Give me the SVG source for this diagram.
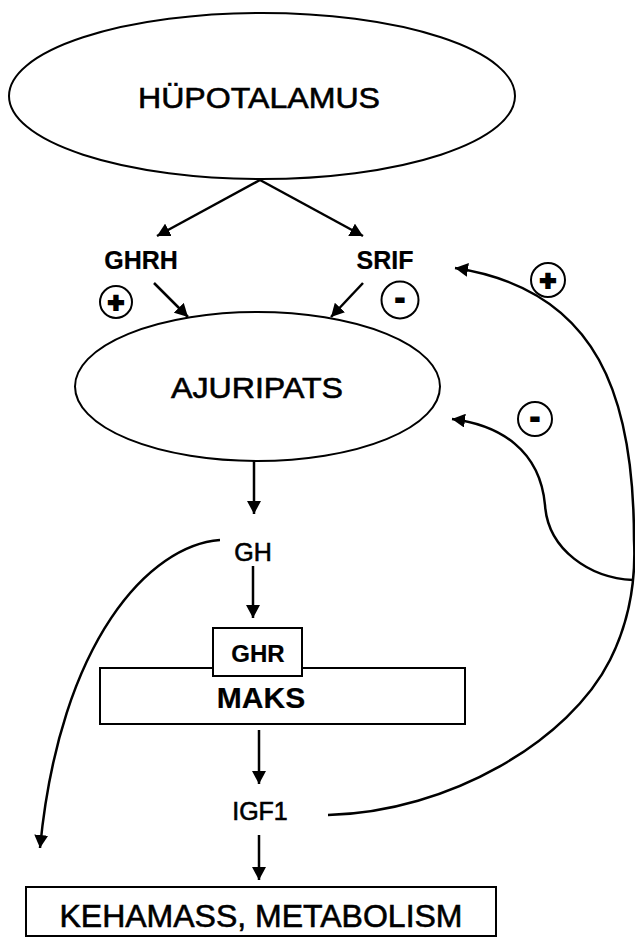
<svg xmlns="http://www.w3.org/2000/svg" width="635" height="937" viewBox="0 0 635 937">
<style>
.shape{fill:#fff;stroke:#000;stroke-width:2}
.con{fill:none;stroke:#000;stroke-width:2.5}
.t{font-family:"Liberation Sans",Arial,sans-serif;fill:#000;stroke:#000;stroke-width:0.6;text-anchor:middle}
.b{font-weight:bold;stroke-width:0.2}
.sym{font-family:"Liberation Sans",Arial,sans-serif;font-weight:bold;fill:#000;stroke:#000;stroke-width:2.2;text-anchor:middle}
.sc{fill:#fff;stroke:#000;stroke-width:2}
</style>
<defs>
<marker id="ah" markerUnits="userSpaceOnUse" markerWidth="14" markerHeight="14" refX="13" refY="7" orient="auto">
<path d="M0,0 L13,7 L0,14 z" fill="#000"/>
</marker>
</defs>
<rect width="635" height="937" fill="#fff"/>
<g id="connectors">
<line class="con" x1="260" y1="180" x2="157" y2="236" marker-end="url(#ah)"/>
<line class="con" x1="260" y1="180" x2="363" y2="236" marker-end="url(#ah)"/>
<line class="con" x1="154" y1="283" x2="188" y2="317" marker-end="url(#ah)"/>
<line class="con" x1="363" y1="283" x2="331" y2="317" marker-end="url(#ah)"/>
<line class="con" x1="254" y1="461" x2="254" y2="514" marker-end="url(#ah)"/>
<line class="con" x1="253" y1="566" x2="253" y2="618" marker-end="url(#ah)"/>
<line class="con" x1="259" y1="730" x2="259" y2="784" marker-end="url(#ah)"/>
<line class="con" x1="259" y1="835" x2="259" y2="880" marker-end="url(#ah)"/>
<path class="con" d="M220,540 C150,545 60,640 40,848" marker-end="url(#ah)"/>
<path class="con" d="M328,815 C450,812 570,740 610,660 C630,620 636,580 634,540 C634,400 600,290 455,268" marker-end="url(#ah)"/>
<path class="con" d="M633,580 C590,578 548,550 545,505 C540,450 500,425 452,419" marker-end="url(#ah)"/>
</g>
<g id="hypothalamus">
<ellipse class="shape" cx="262" cy="96" rx="253" ry="83"/>
<text class="t" x="259" y="108" font-size="30" textLength="242" lengthAdjust="spacingAndGlyphs">HÜPOTALAMUS</text>
</g>
<g id="ghrh">
<text class="t b" x="141" y="269" font-size="25">GHRH</text>
</g>
<g id="srif">
<text class="t b" x="385" y="269" font-size="25">SRIF</text>
</g>
<g id="plus1">
<circle class="sc" cx="116" cy="302" r="16"/>
<text class="sym" x="116" y="312" font-size="28">+</text>
</g>
<g id="minus1">
<circle class="sc" cx="400" cy="300" r="18.5"/>
<text class="sym" x="400" y="307.5" font-size="28">-</text>
</g>
<g id="plus2">
<circle class="sc" cx="548" cy="280" r="17"/>
<text class="sym" x="548" y="290" font-size="28">+</text>
</g>
<g id="minus2">
<circle class="sc" cx="535" cy="419" r="17"/>
<text class="sym" x="535" y="426.5" font-size="28">-</text>
</g>
<g id="ajuripats">
<ellipse class="shape" cx="257.5" cy="386.5" rx="182.5" ry="74.5"/>
<text class="t" x="257" y="398" font-size="30" textLength="172" lengthAdjust="spacingAndGlyphs">AJURIPATS</text>
</g>
<g id="gh">
<text class="t" x="253" y="561" font-size="25">GH</text>
</g>
<g id="maks">
<rect class="shape" x="100" y="668" width="365" height="56"/>
<text class="t b" x="261" y="708" font-size="30">MAKS</text>
</g>
<g id="ghr">
<rect class="shape" x="213" y="628" width="89" height="48"/>
<text class="t b" x="258" y="662" font-size="24">GHR</text>
</g>
<g id="igf1">
<text class="t" x="260" y="820" font-size="25">IGF1</text>
</g>
<g id="kehamass">
<rect class="shape" x="26" y="887" width="470" height="49"/>
<text class="t" x="261" y="927" font-size="32">KEHAMASS, METABOLISM</text>
</g>
</svg>
